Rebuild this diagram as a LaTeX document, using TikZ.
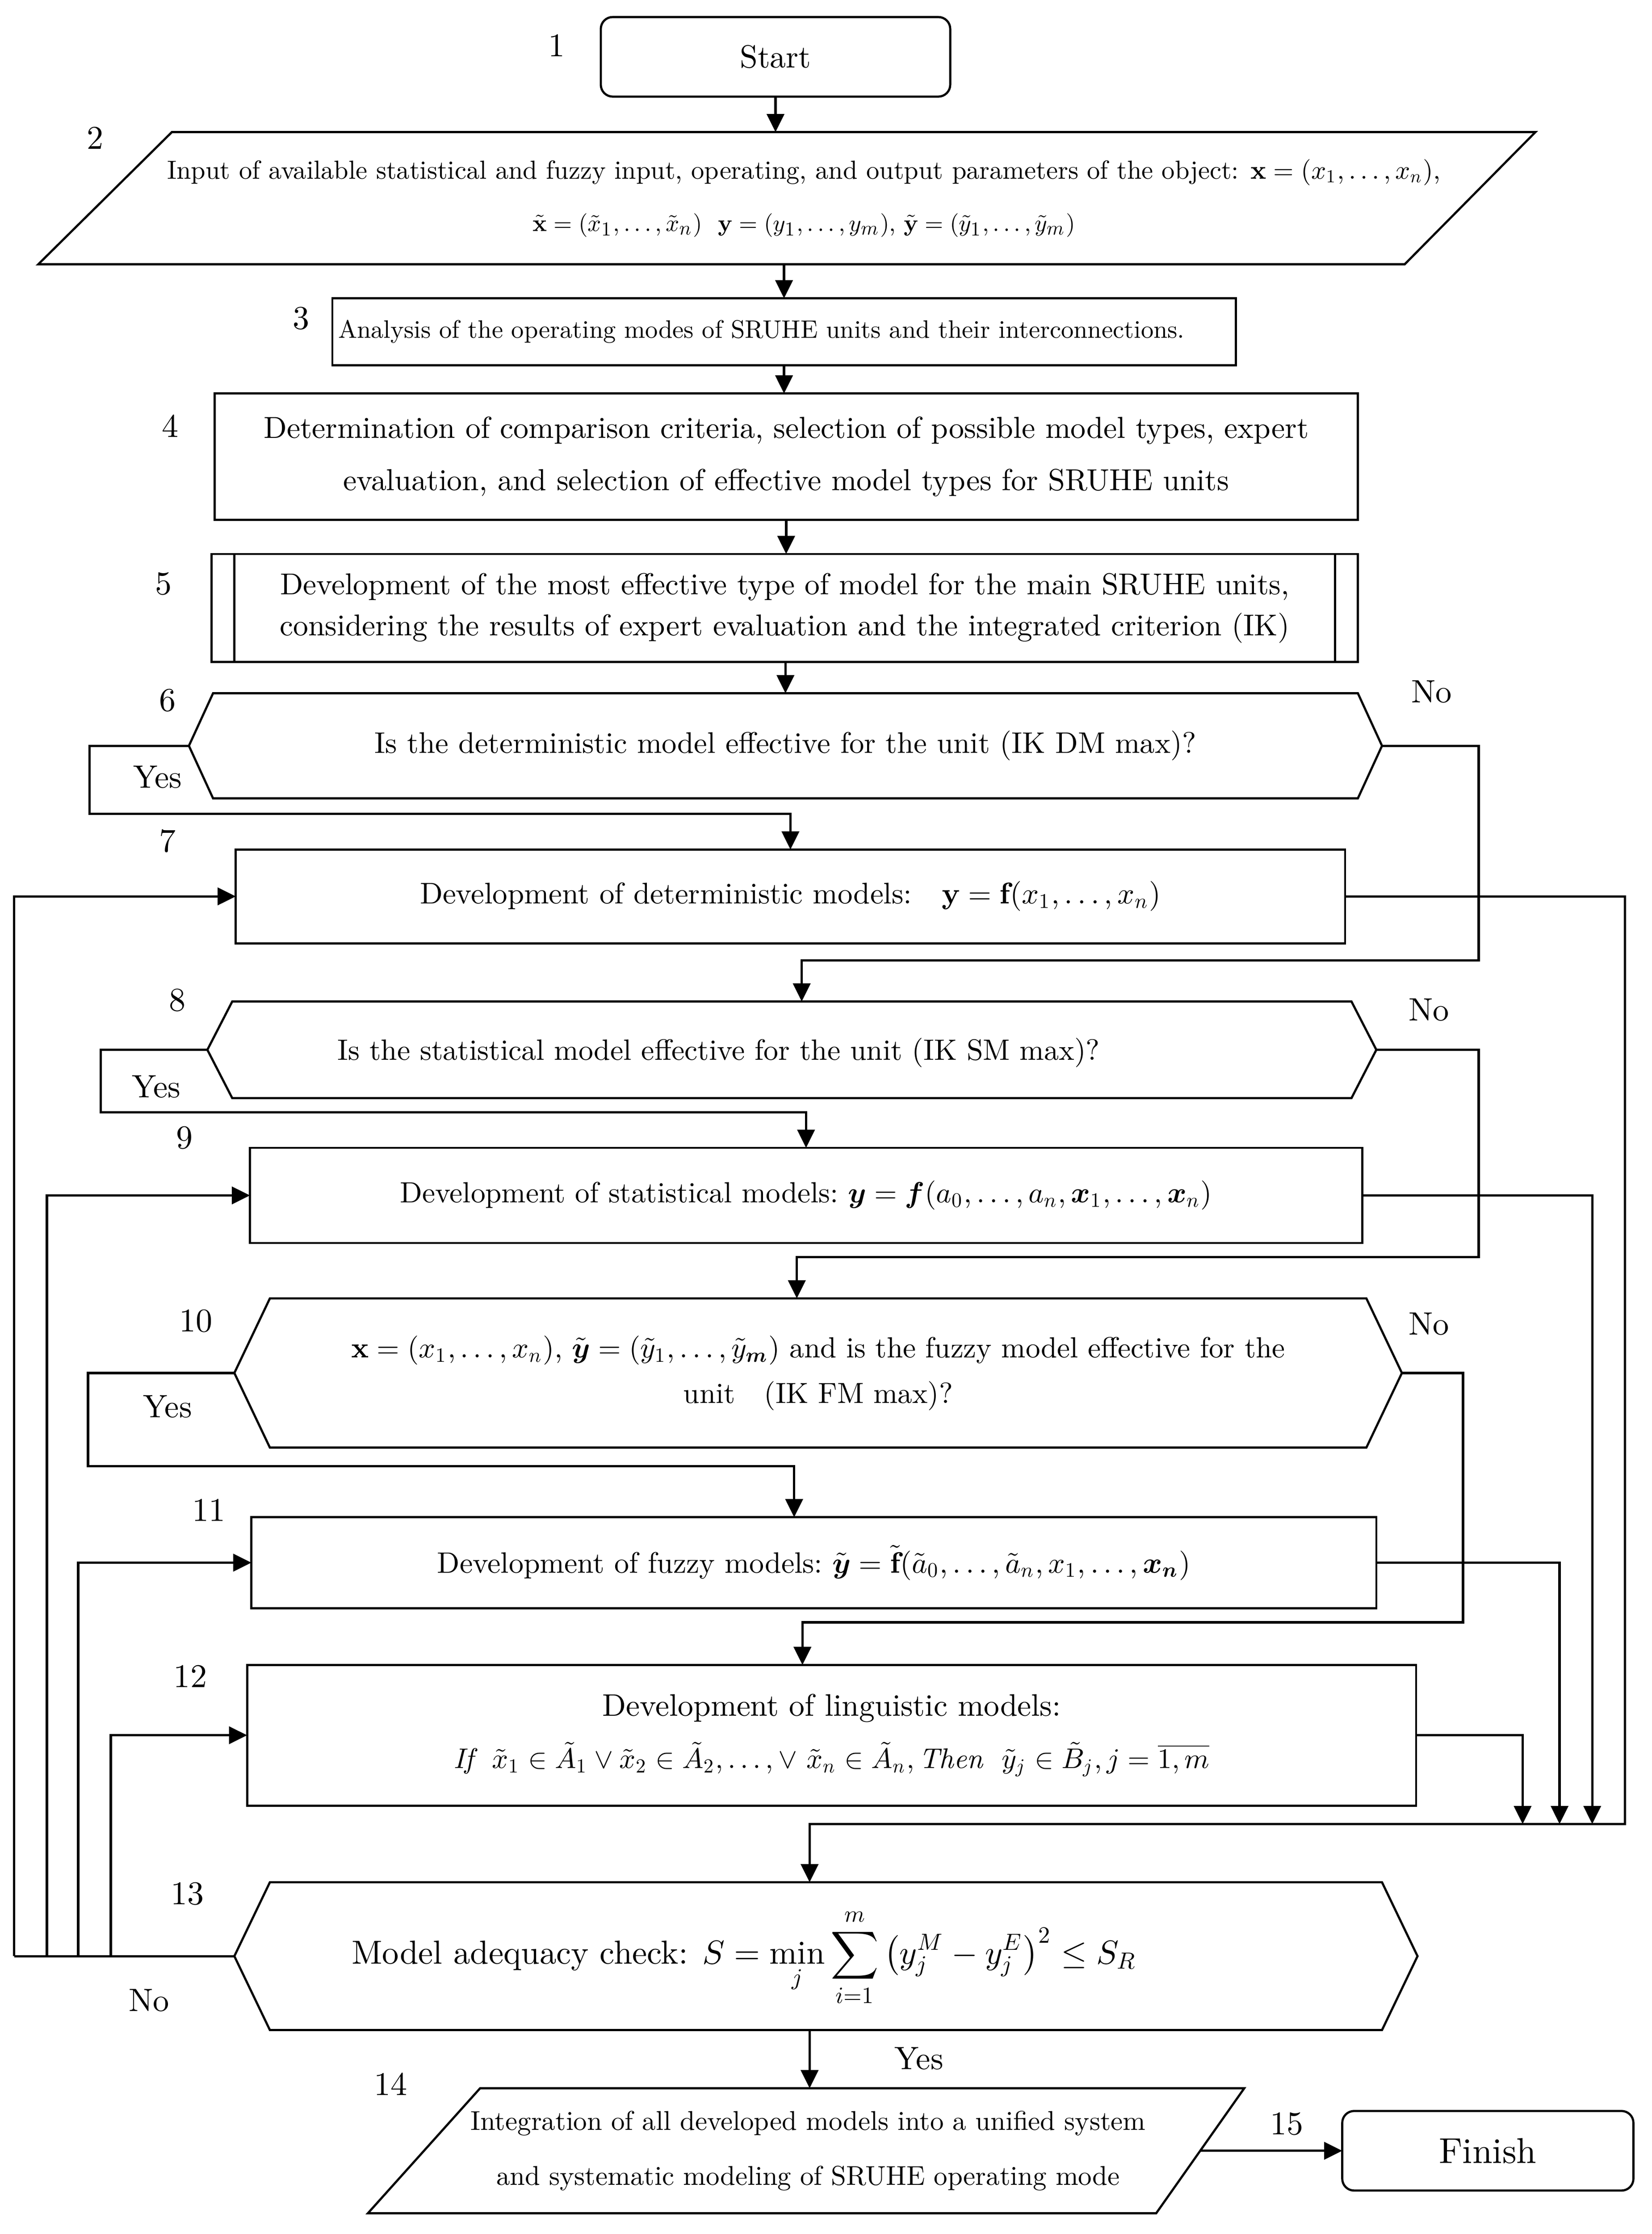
\documentclass[tikz,border=0pt]{standalone}
\usepackage{amsmath,amssymb}
\usepackage{fontspec}
\setmainfont{lmroman10-regular.otf}[BoldFont=lmroman10-bold.otf, ItalicFont=lmroman10-italic.otf, BoldItalicFont=lmroman10-bolditalic.otf]
\DeclareFontShape{OML}{cmm}{m}{it}{<->cmmi10}{}
\DeclareFontShape{OML}{cmm}{b}{it}{<->cmmib10}{}
\DeclareFontShape{OT1}{cmr}{m}{n}{<->cmr10}{}
\DeclareFontShape{OT1}{cmr}{bx}{n}{<->cmbx10}{}
\DeclareFontShape{OMS}{cmsy}{m}{n}{<->cmsy10}{}
\DeclareFontShape{OMS}{cmsy}{b}{n}{<->cmbsy10}{}
\DeclareFontShape{OMX}{cmex}{m}{n}{<->cmex10}{}
\usetikzlibrary{arrows.meta,calc}
\newcommand\fsz[2]{\fontsize{#1}{#2}\selectfont}
\newcommand\hexa[2]{\draw[shp] (#1.west) -- ([xshift=#2]#1.north west) -- ([xshift=-#2]#1.north east) -- (#1.east) -- ([xshift=-#2]#1.south east) -- ([xshift=#2]#1.south west) -- cycle;}
\tikzset{
  shp/.style={draw, line width=0.55pt},
  blk/.style={shp, rectangle, inner sep=1pt, outer sep=0pt, align=center},
  hid/.style={rectangle, inner sep=0pt, outer sep=0pt, align=center},
  conn/.style={line width=0.6pt},
  arr/.style={conn, -{Triangle[length=4.6pt,width=4.4pt]}},
  num/.style={font=\fsz{8.4}{10}, inner sep=0pt},
  yn/.style={font=\fsz{8.2}{10}, inner sep=0pt},
}
\begin{document}
\begin{tikzpicture}[x=0.36pt,y=-0.36pt]
\useasboundingbox (0,0) rectangle (1163,1572.6);

% ---------- nodes ----------
\node[blk, rounded corners=3pt, minimum width=88.56pt, minimum height=20.16pt, font=\fsz{8.1}{10}] (s1) at (546,40) {Start};

\draw[shp] (121,93) -- (1081,93) -- (989,186) -- (27,186) -- cycle;
\node[hid, minimum height=33.48pt, font=\fsz{6.62}{13.3}] (p2) at (566,139.5)
 {Input of available statistical and fuzzy input, operating, and output parameters of the object: $\mathbf{x}=(x_1,\dots,x_n)$,\\
  {\fsz{6.0}{6.5}$\tilde{\mathbf{x}}=(\tilde x_1,\dots,\tilde x_n)$\ \ $\mathbf{y}=(y_1,\dots,y_m)$, $\tilde{\mathbf{y}}=(\tilde y_1,\dots,\tilde y_m)$}};

\node[blk, minimum width=228.96pt, minimum height=16.92pt, text width=226pt, align=left, font=\fsz{6.39}{7}] (b3) at (552,233.5)
 {\raisebox{-1.2pt}{Analysis of the operating modes of SRUHE units and their interconnections.}};

\node[blk, minimum width=289.8pt, minimum height=32.04pt, font=\fsz{7.69}{13.3}] (b4) at (553.5,321.5)
 {Determination of comparison criteria, selection of possible model types, expert\\evaluation, and selection of effective model types for SRUHE units};

\node[blk, minimum width=290.52pt, minimum height=27.36pt, font=\fsz{7.63}{10.4}] (b5) at (552.5,428)
 {Development of the most effective type of model for the main SRUHE units,\\considering the results of expert evaluation and the integrated criterion (IK)};
\draw[shp] ([xshift=5.76pt]b5.north west) -- ([xshift=5.76pt]b5.south west);
\draw[shp] ([xshift=-5.76pt]b5.north east) -- ([xshift=-5.76pt]b5.south east);

\node[hid, minimum width=302.4pt, minimum height=26.64pt, font=\fsz{7.54}{9}] (d6) at (553,525)
 {Is the deterministic model effective for the unit (IK DM max)?};
\hexa{d6}{6.12pt}

\node[blk, minimum width=281.16pt, minimum height=23.76pt, font=\fsz{7.57}{9}] (b7) at (556.5,631)
 {Development of deterministic models:\quad $\mathbf{y}=\mathbf{f}(x_1,\dots,x_n)$};

\node[hid, minimum width=296.28pt, minimum height=24.48pt] (d8) at (557.5,739) {};
\hexa{d8}{6.3pt}
\node[hid, font=\fsz{7.44}{9}] (d8t) at (506,741) {Is the statistical model effective for the unit (IK SM max)?};

\node[blk, minimum width=281.88pt, minimum height=24.12pt, font=\fsz{7.39}{9}] (b9) at (567.5,841.5)
 {Development of statistical models:\ $\boldsymbol{y}=\boldsymbol{f}(a_0,\dots,a_n,\boldsymbol{x}_1,\dots,\boldsymbol{x}_n)$};

\node[hid, minimum width=295.92pt, minimum height=37.8pt, font=\fsz{7.37}{11.5}] (d10) at (576,966.5)
 {$\mathbf{x}=(x_1,\dots,x_n)$,\ $\tilde{\boldsymbol{y}}=(\tilde y_1,\dots,\tilde y_{\boldsymbol{m}})$ and is the fuzzy model effective for the\\unit\quad (IK FM max)?};
\hexa{d10}{9pt}

\node[blk, minimum width=285.12pt, minimum height=23.04pt, font=\fsz{7.47}{9}] (b11) at (573,1100)
 {Development of fuzzy models:\ $\tilde{\boldsymbol{y}}=\tilde{\mathbf{f}}(\tilde a_0,\dots,\tilde a_n,x_1,\dots,\boldsymbol{x}_{\boldsymbol{n}})$};

\node[blk, minimum width=296.28pt, minimum height=35.64pt, font=\fsz{7.88}{13.3}] (b12) at (585.5,1221.5)
 {Development of linguistic models:\\
  {\fsz{7.18}{8}$\mathit{If}\ \ \tilde x_1\in\tilde A_1\vee\tilde x_2\in\tilde A_2,\dots,\vee\ \tilde x_n\in\tilde A_n,\mathit{Then}\ \ \tilde y_j\in\tilde B_j, j=\overline{1,m}$}};

\node[hid, minimum width=299.88pt, minimum height=37.44pt] (d13) at (581.5,1377) {};
\hexa{d13}{9pt}
\node[hid, font=\fsz{8.45}{10}] (d13t) at (524,1378)
 {Model adequacy check: $S=\displaystyle\min_{j}\sum_{i=1}^{m}\left(y_j^M-y_j^E\right)^2\le S_R$};

\draw[shp] (338,1470) -- (876,1470) -- (814,1558) -- (259,1558) -- cycle;
\node[hid, minimum height=31.68pt, font=\fsz{6.89}{14}] (p14) at (569,1514)
 {Integration of all developed models into a unified system\\and systematic modeling of SRUHE operating mode};

\node[blk, rounded corners=3pt, minimum width=73.8pt, minimum height=20.16pt, font=\fsz{9.1}{10}] (f15) at (1047.5,1514) {Finish};

% ---------- numbers ----------
\node[num] (n1) at (392,32) {1};
\node[num] (n2) at (67,97) {2};
\node[num] (n3) at (212,224) {3};
\node[num] (n4) at (120,300) {4};
\node[num] (n5) at (115,411) {5};
\node[num] (n6) at (118,493) {6};
\node[num] (n7) at (118,592) {7};
\node[num] (n8) at (125,704) {8};
\node[num] (n9) at (130,801) {9};
\node[num] (n10) at (138,930) {10};
\node[num] (n11) at (147,1063) {11};
\node[num] (n12) at (134,1180) {12};
\node[num] (n13) at (132,1333) {13};
\node[num] (n14) at (275,1467) {14};
\node[num] (n15) at (906,1495) {15};

% ---------- yes / no ----------
\node[yn] (no6) at (1008,487) {No};
\node[yn] (yes6) at (111,547) {Yes};
\node[yn] (no8) at (1006,711) {No};
\node[yn] (yes8) at (110,765) {Yes};
\node[yn] (no10) at (1006,932) {No};
\node[yn] (yes10) at (118,990) {Yes};
\node[yn] (no13) at (105,1408) {No};
\node[yn] (yes13) at (647,1449) {Yes};

% ---------- helper coordinates ----------
\coordinate (y6) at (63,573);   \coordinate (c6) at (1041,676);
\coordinate (y8) at (71,783);   \coordinate (c8) at (1041,885);
\coordinate (y10) at (62,1032); \coordinate (c10) at (1030,1142);
\coordinate (r7) at (1144,1284); \coordinate (r9) at (1121,1284);
\coordinate (r11) at (1098,1284); \coordinate (r12) at (1072,1284);
\coordinate (l7) at (10,1377); \coordinate (l9) at (33,1377);
\coordinate (l11) at (55,1377); \coordinate (l12) at (78,1377);
\coordinate (p14e) at (845,1514);

% ---------- connectors ----------
\draw[arr] (s1.south) -- (s1.south |- p2.north);
\draw[arr] (b3.north |- p2.south) -- (b3.north);
\draw[arr] (b3.south) -- (b3.south |- b4.north);
\draw[arr] (b4.south) -- (b4.south |- b5.north);
\draw[arr] (d6.north |- b5.south) -- (d6.north);

\draw[arr] (d6.west) -| (y6) -| (b7.north);
\draw[arr] (d6.east) -| (c6) -| ([xshift=2.5pt]d8.north);
\draw[arr] (d8.west) -| (y8) -| (b9.north);
\draw[arr] (d8.east) -| (c8) -| ([xshift=-5.4pt]d10.north);
\draw[arr] (d10.west) -| (y10) -| ([xshift=-5pt]b11.north);
\draw[arr] (d10.east) -| (c10) -| ([xshift=-7.4pt]b12.north);

\draw[arr] (b7.east) -| (r7) -| ([xshift=-4.14pt]d13.north);
\draw[arr] (b9.east) -| (r9);
\draw[arr] (b11.east) -| (r11);
\draw[arr] (b12.east) -| (r12);

\draw[conn] (d13.west) -- (l7);
\draw[arr] (l7) |- (b7.west);
\draw[arr] (l9) |- (b9.west);
\draw[arr] (l11) |- (b11.west);
\draw[arr] (l12) |- (b12.west);

\draw[arr] ([xshift=-4.14pt]d13.south) -- ([xshift=-4.14pt]d13.south |- p14.north);
\draw[arr] (p14e) -- (f15.west);
\end{tikzpicture}
\end{document}
